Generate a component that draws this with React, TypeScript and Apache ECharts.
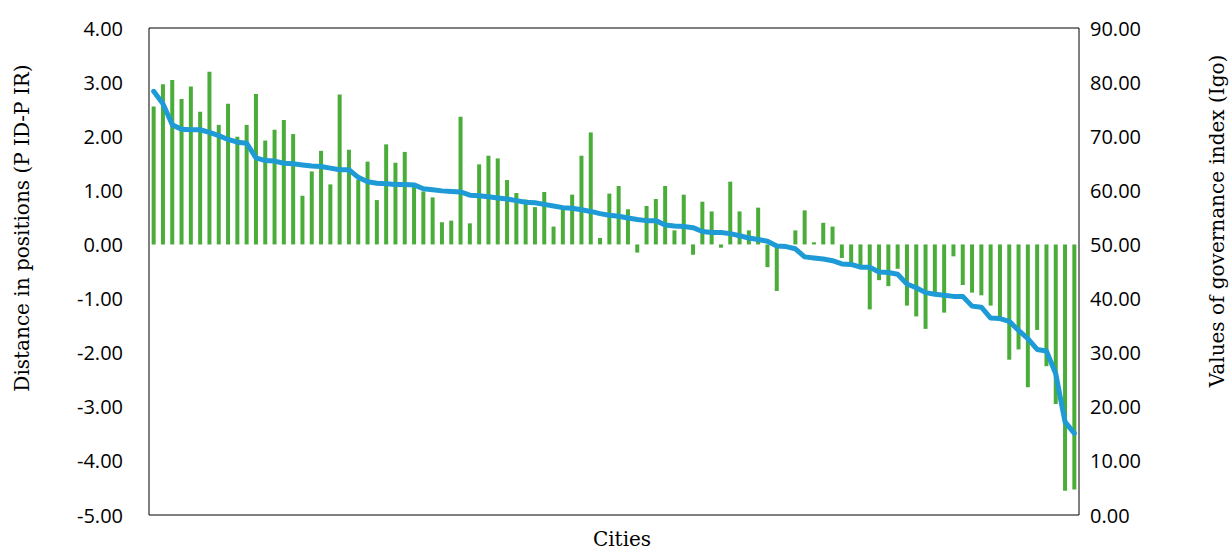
import React, { useEffect, useRef } from 'react';
import * as echarts from 'echarts';

// Cities are ordered by governance index (unlabelled on the chart)
const cities: string[] = Array.from({ length: 100 }, (_, i) => `City ${i + 1}`);

// Distance in positions (P ID - P IR), left axis
const distanceValues: number[] = [
  2.55, 2.96, 3.04, 2.69, 2.92, 2.45, 3.19, 2.21, 2.60, 1.99,
  2.21, 2.78, 1.92, 2.12, 2.30, 2.04, 0.90, 1.35, 1.73, 1.11,
  2.77, 1.75, 1.20, 1.53, 0.82, 1.85, 1.51, 1.71, 1.08, 0.98,
  0.87, 0.41, 0.44, 2.36, 0.39, 1.48, 1.64, 1.59, 1.19, 0.95,
  0.83, 0.69, 0.97, 0.33, 0.66, 0.92, 1.64, 2.07, 0.12, 0.94,
  1.08, 0.65, -0.15, 0.71, 0.84, 1.08, 0.26, 0.92, -0.19, 0.79,
  0.61, -0.06, 1.16, 0.61, 0.26, 0.68, -0.42, -0.86, 0.00, 0.26,
  0.63, 0.04, 0.40, 0.33, -0.25, -0.35, -0.38, -1.20, -0.66, -0.77,
  -0.45, -1.13, -1.33, -1.56, -0.92, -1.26, -0.22, -0.75, -0.89, -0.94,
  -1.13, -1.37, -2.13, -1.94, -2.64, -1.58, -2.25, -2.95, -4.55, -4.53,
];

// Values of governance index (Igo), right axis
const igoValues: number[] = [
  78.3, 76.0, 72.1, 71.3, 71.2, 71.2, 70.7, 70.1, 69.4, 68.9,
  68.7, 66.0, 65.5, 65.4, 65.0, 64.9, 64.7, 64.5, 64.4, 64.1,
  63.8, 63.8, 62.4, 61.6, 61.3, 61.2, 61.1, 61.1, 61.0, 60.3,
  60.1, 59.9, 59.8, 59.7, 59.1, 59.0, 58.8, 58.6, 58.4, 58.1,
  57.8, 57.7, 57.4, 57.1, 56.8, 56.7, 56.4, 56.1, 55.7, 55.4,
  55.2, 54.9, 54.6, 54.4, 54.4, 53.6, 53.4, 53.3, 53.1, 52.4,
  52.2, 52.2, 52.0, 51.6, 51.2, 50.9, 50.6, 49.7, 49.6, 49.2,
  47.7, 47.5, 47.3, 47.0, 46.4, 46.3, 45.8, 45.8, 44.9, 44.8,
  44.5, 42.7, 42.0, 41.1, 40.8, 40.6, 40.4, 40.4, 38.6, 38.4,
  36.4, 36.3, 35.8, 34.1, 32.6, 30.6, 30.3, 26.1, 17.2, 15.1,
];

const leftTitle = 'Distance in positions (P ID-P IR)';
const rightTitle = 'Values of governance index (Igo)';
const xTitle = 'Cities';

export default function App() {
  const ref = useRef<HTMLDivElement>(null);
  useEffect(() => {
    const chart = echarts.init(ref.current!, null, { renderer: 'svg' });
    const labelFont = { color: '#000', fontFamily: 'Open Sans', fontSize: 20 };
    const titleStyle = { fill: '#000', fontFamily: 'DejaVu Serif', fontSize: 20, align: 'center', verticalAlign: 'middle' };
    chart.setOption({
      animation: false,
      backgroundColor: '#fff',
      grid: { left: 149, right: 152, top: 28, bottom: 37, show: true, borderColor: '#000', borderWidth: 1 },
      xAxis: {
        type: 'category',
        data: cities,
        axisLine: { show: false },
        axisTick: { show: false },
        axisLabel: { show: false },
        splitLine: { show: false },
      },
      yAxis: [
        {
          type: 'value', min: -5, max: 4, interval: 1,
          axisLine: { show: false }, axisTick: { show: false }, splitLine: { show: false },
          axisLabel: { ...labelFont, margin: 26, formatter: (v: number) => v.toFixed(2) },
        },
        {
          type: 'value', min: 0, max: 90, interval: 10, position: 'right',
          axisLine: { show: false }, axisTick: { show: false }, splitLine: { show: false },
          axisLabel: { ...labelFont, margin: 11, formatter: (v: number) => v.toFixed(2) },
        },
      ],
      graphic: [
        { type: 'text', x: 22, y: 228, rotation: Math.PI / 2, style: { ...titleStyle, text: leftTitle } },
        { type: 'text', x: 1217, y: 221, rotation: Math.PI / 2, style: { ...titleStyle, text: rightTitle } },
        { type: 'text', x: 622, y: 539, style: { ...titleStyle, text: xTitle } },
      ],
      series: [
        {
          type: 'bar', data: distanceValues, barWidth: 4,
          itemStyle: { color: '#4aad3a' },
        },
        {
          type: 'line', yAxisIndex: 1, data: igoValues, symbol: 'none', showSymbol: false, z: 3,
          lineStyle: { width: 5, color: '#1e9ad6', join: 'round', cap: 'round' },
        },
      ],
    });
    return () => chart.dispose();
  }, []);
  return <div ref={ref} style={{ position: 'fixed', left: 0, top: 0, width: 1231, height: 552, background: '#fff' }} />;
}
